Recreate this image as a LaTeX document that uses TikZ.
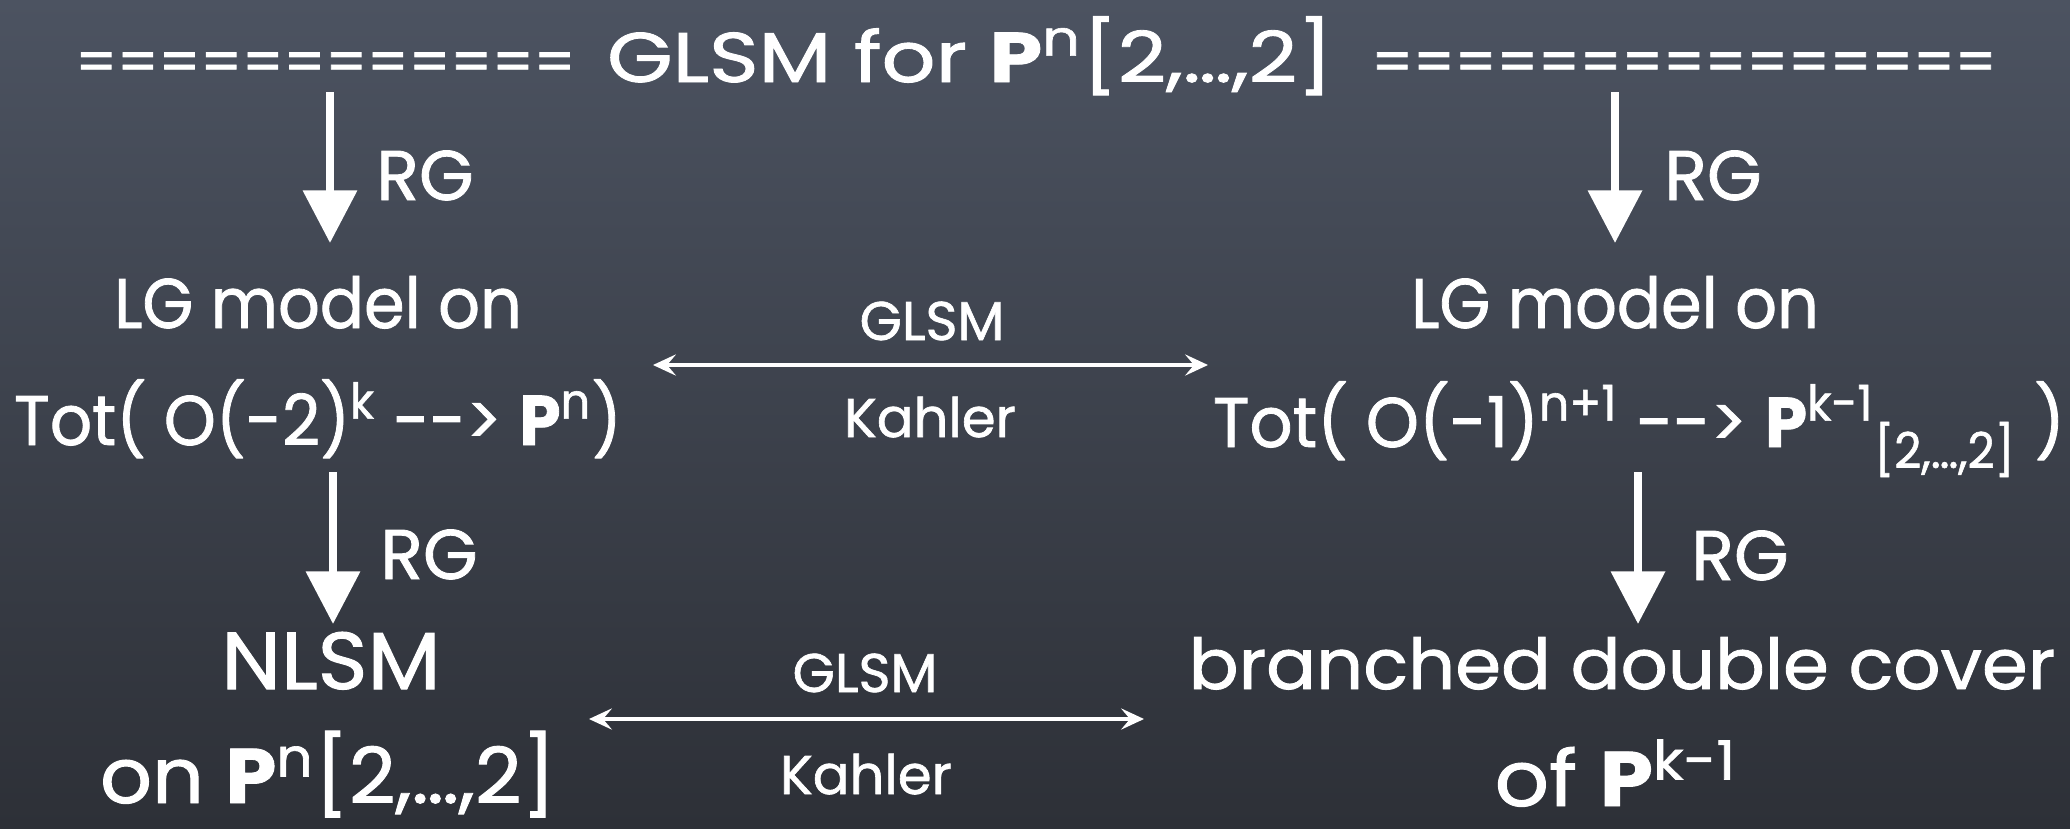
\documentclass[tikz,border=0pt]{standalone}
\usepackage{fontspec}
\setmainfont{Poppins}[FakeBold=1.2]
\usetikzlibrary{arrows.meta}
\definecolor{boardtop}{HTML}{4C5361}
\definecolor{boardbot}{HTML}{2D3037}
\newcommand{\sx}[2]{\scalebox{#1}[1]{#2}}
\newcommand{\eqs}[1]{{\fontsize{16.4}{20}\selectfont #1}}

\begin{document}
\begin{tikzpicture}[txt/.style={text=white, font=\fontsize{20}{24}\selectfont, inner sep=0pt, anchor=base}, big/.style={txt, font=\fontsize{22}{26}\selectfont}, lbl/.style={text=white, font=\fontsize{15.5}{18}\selectfont, inner sep=0pt, anchor=base}, rg/.style={text=white, font=\fontsize{20}{24}\selectfont, inner sep=0pt, anchor=base}, down/.style={draw=white, line width=2.3pt, -{Triangle[width=15pt,length=15pt]}}, duo/.style={draw=white, line width=1pt, {Stealth[length=6.5pt,width=6pt,inset=2.5pt]}-{Stealth[length=6.5pt,width=6pt,inset=2.5pt]}}]
                % board
                \shade[top color=boardtop, bottom color=boardbot] (0,0) rectangle (20.7,-8.28);
                \useasboundingbox (0,0) rectangle (20.7,-8.28);
                % nodes
                \node[txt] (title) at (10.36,-0.82) {\eqs{============}\hspace{9pt}\sx{1.2}{GLSM for \textbf{P}\textsuperscript{n}[2,…,2]}\hspace{11pt}\eqs{===============}};
                \node[txt] (lgL) at (3.18,-3.28) {\sx{0.93}{LG model on}};
                \node[txt] (totL) at (3.18,-4.45) {\sx{0.94}{Tot( O(-2)\textsuperscript{k} -{}-> \textbf{P}\textsuperscript{n})}};
                \node[txt] (lgR) at (16.15,-3.28) {\sx{0.93}{LG model on}};
                \node[txt] (totR) at (16.39,-4.47) {\sx{0.96}{Tot( O(-1)\textsuperscript{n+1} -{}-> \textbf{P}\textsuperscript{k-1}\textsubscript{[2,…,2]} )}};
                \node[txt, font=\fontsize{23}{27}\selectfont] (nlsm) at (3.31,-6.89) {\sx{1.05}{NLSM}};
                \node[big] (onP) at (3.28,-8.03) {\sx{1.05}{on \textbf{P}\textsuperscript{n}[2,…,2]}};
                \node[txt] (bdc) at (16.22,-6.89) {\sx{1.05}{branched double cover}};
                \node[big] (ofP) at (16.16,-8.06) {\sx{1.1}{of \textbf{P}\textsuperscript{k-1}}};
                \node[rg] (rg1) at (4.25,-2.00) {RG};
                \node[rg] (rg2) at (17.13,-2.00) {RG};
                \node[rg] (rg3) at (4.29,-5.79) {RG};
                \node[rg] (rg4) at (17.40,-5.80) {RG};
                \node[lbl] (g1) at (9.32,-3.40) {GLSM};
                \node[lbl] (k1) at (9.30,-4.37) {Kahler};
                \node[lbl] (g2) at (8.65,-6.92) {GLSM};
                \node[lbl] (k2) at (8.66,-7.94) {Kahler};
                % arrow ends
                \coordinate (xl1) at (3.30,0);
                \coordinate (xr1) at (16.15,0);
                \coordinate (xl2) at (3.33,0);
                \coordinate (xr2) at (16.38,0);
                \coordinate (h1a) at (6.53,-3.65);
                \coordinate (h1b) at (12.08,-3.65);
                \coordinate (h2a) at (5.89,-7.19);
                \coordinate (h2b) at (11.44,-7.19);
                % edges
                \draw[down, shorten <=0.1cm, shorten >=0.85cm] (title.base -| xl1) -- (lgL.base -| xl1);
                \draw[down, shorten <=0.1cm, shorten >=0.85cm] (title.base -| xr1) -- (lgR.base -| xr1);
                \draw[down, shorten <=0.27cm, shorten >=0.65cm] (totL.base -| xl2) -- (nlsm.base -| xl2);
                \draw[down, shorten <=0.25cm, shorten >=0.65cm] (totR.base -| xr2) -- (bdc.base -| xr2);
                \draw[duo] (h1a) -- (h1b);
                \draw[duo] (h2a) -- (h2b);
            \end{tikzpicture}
\end{document}
